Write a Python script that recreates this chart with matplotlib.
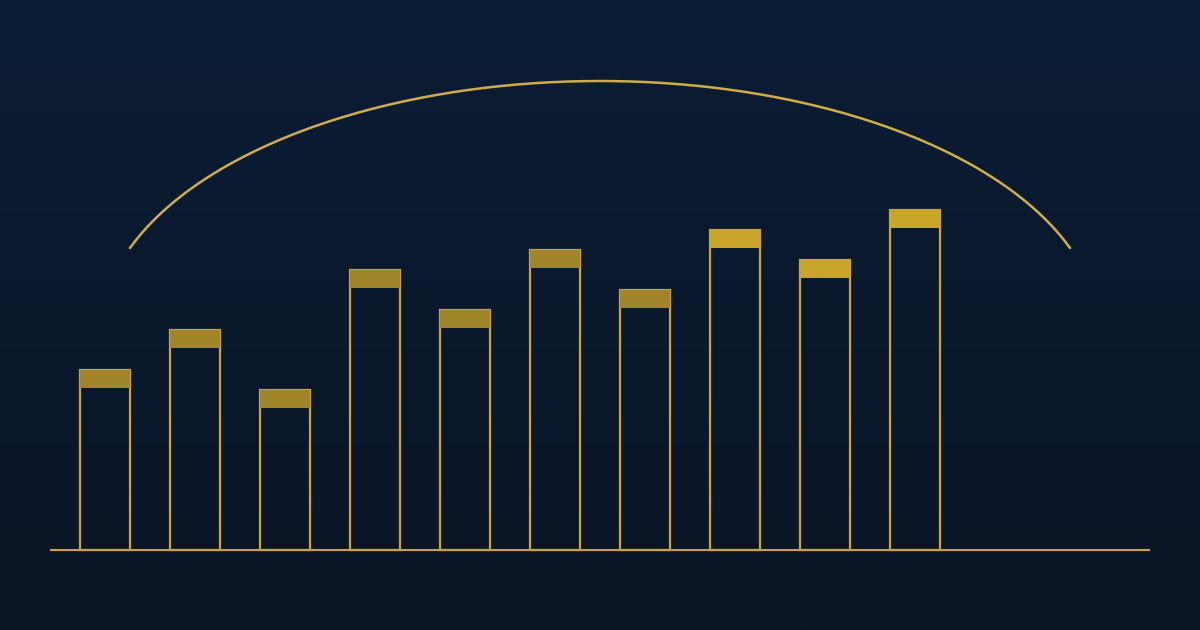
import numpy as np
import matplotlib
matplotlib.use('Agg')
import matplotlib.pyplot as plt
from matplotlib.patches import Rectangle
from matplotlib.colors import LinearSegmentedColormap

# bar values (baseline = 0)
values = [180, 220, 160, 280, 240, 300, 260, 320, 290, 340]
highlight = [False, False, False, False, False, False, False, True, True, True]
positions = np.arange(len(values))

gold = '#c9a43a'
cap_dim = '#a0842a'
cap_bright = '#c9a52a'
cap_h = 18
bar_w = 50 / 90

fig = plt.figure(figsize=(12, 6.3), dpi=100)
ax = fig.add_axes([0, 0, 1, 1])
ax.set_xlim(-105 / 90, (1200 - 105) / 90)
ax.set_ylim(-80, 550)
ax.axis('off')

# background gradient
bg = LinearSegmentedColormap.from_list('bg', ['#0a1424', '#0b1d35'])
grad = np.linspace(0, 1, 256).reshape(-1, 1)
ax.imshow(grad, aspect='auto', cmap=bg, origin='lower',
          extent=[*ax.get_xlim(), -80, 550], zorder=0)

# baseline
ax.plot([-55 / 90, 1045 / 90], [0, 0], color=gold, lw=1.5, zorder=2,
        solid_capstyle='butt')

for x, v, hi in zip(positions, values, highlight):
    ax.add_patch(Rectangle((x - bar_w / 2, 0), bar_w, v, fill=False,
                           edgecolor=gold, lw=1.6, zorder=3))
    ax.add_patch(Rectangle((x - bar_w / 2, v - cap_h), bar_w, cap_h,
                           facecolor=cap_bright if hi else cap_dim,
                           edgecolor='none', zorder=4))

# arc over the bars (part of an ellipse)
t = np.radians(np.linspace(20, 160, 300))
ax.plot(5.5 + 500 / 90 * np.cos(t), 215.5 + 253.5 * np.sin(t),
        color='#d1ad45', lw=1.8, zorder=3)

fig.savefig('out.png', dpi=100)
